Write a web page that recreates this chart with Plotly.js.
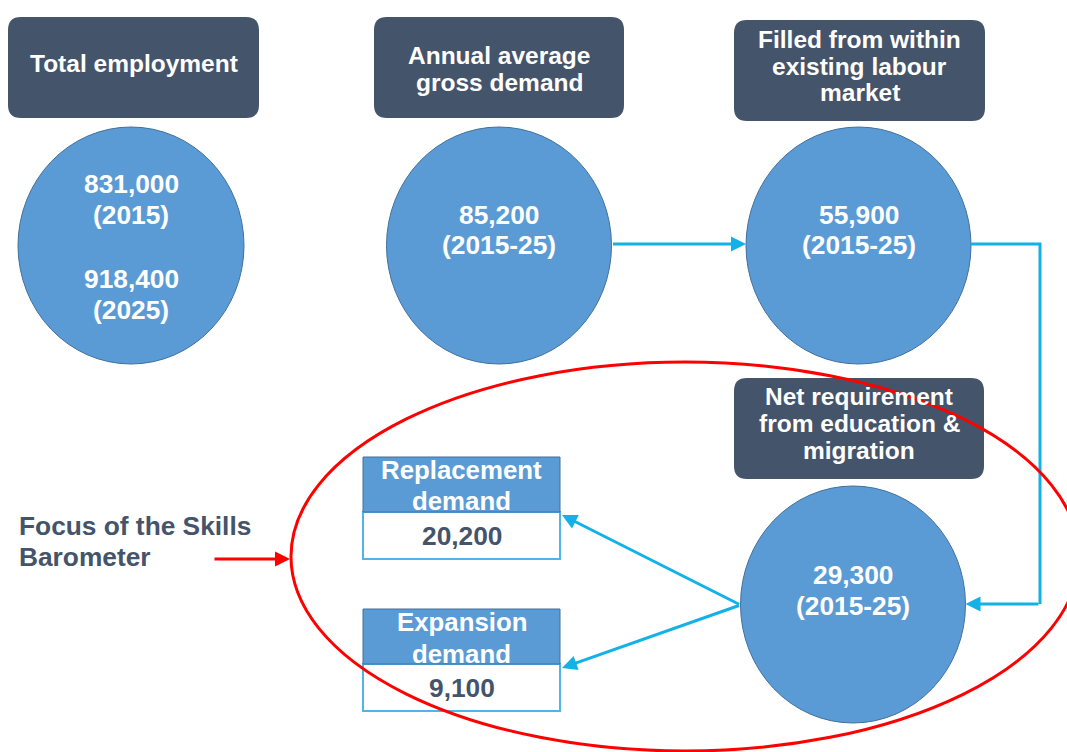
<!DOCTYPE html>
<html>
<head>
<meta charset="utf-8">
<script src="https://cdn.plot.ly/plotly-3.0.1.min.js"></script>
<style>html,body{margin:0;padding:0;background:#fff;}#chart{width:1067px;height:752px;}</style>
</head>
<body>
<div id="chart"></div>
<script>
// ---------------- DATA ----------------
const headerLabels = [
  ["Total employment"],
  ["Annual average", "gross demand"],
  ["Filled from within", "existing labour", "market"],
  ["Net requirement", "from education &", "migration"]
];
const employmentValues = [831000, 918400];
const employmentYears = ["2015", "2025"];
const flowValues = [85200, 55900, 29300];
const flowPeriod = "2015-25";
const demandLabels = [["Replacement", "demand"], ["Expansion", "demand"]];
const demandValues = [20200, 9100];
const focusLabel = ["Focus of the Skills", "Barometer"];

// ---------------- LAYOUT (positions / styles) ----------------
const C = {
  dark: "#44546A", blue: "#5B9BD5", blueEdge: "#41719C",
  arrow: "#12B2E8", cellEdge: "#4DB5EA", red: "#FF0000"
};
const FONT = "Liberation Sans, Arial, sans-serif";
const HEAD_SIZE = 24.5, NUM_SIZE = 26.3, TAB_SIZE = 25.8;
const headerBoxes = [
  {x0: 8, x1: 259, y0: 17, y1: 118, lines: [63]},
  {x0: 374, x1: 624, y0: 17, y1: 118, lines: [55, 82]},
  {x0: 734, x1: 985, y0: 20, y1: 121, lines: [39, 66, 92]},
  {x0: 734, x1: 984, y0: 378, y1: 479, lines: [396, 423, 450]}
];
const circles = [
  {cx: 131, cy: 245.5, rx: 113, ry: 118.5, lines: [184, 215, 279, 310]},
  {cx: 499, cy: 245.5, rx: 112.5, ry: 118.5, lines: [215, 245]},
  {cx: 858.5, cy: 245.5, rx: 112.5, ry: 118.5, lines: [215, 245]},
  {cx: 853, cy: 604.5, rx: 112.5, ry: 118.5, lines: [575, 606]}
];
const tables = [
  {x0: 363, x1: 560, y0: 457, ym: 512, y1: 559, lines: [470, 501], val: 536},
  {x0: 363, x1: 560, y0: 609, ym: 664, y1: 711, lines: [622, 654], val: 688}
];

function fmt(v) { return v.toLocaleString("en-US"); }

function roundRect(x0, y0, x1, y1, r) {
  return `M${x0 + r},${y0} L${x1 - r},${y0} Q${x1},${y0} ${x1},${y0 + r} ` +
    `L${x1},${y1 - r} Q${x1},${y1} ${x1 - r},${y1} L${x0 + r},${y1} ` +
    `Q${x0},${y1} ${x0},${y1 - r} L${x0},${y0 + r} Q${x0},${y0} ${x0 + r},${y0} Z`;
}

const shapes = [];
const annotations = [];

function txt(x, y, text, size, color, xanchor) {
  annotations.push({
    x: x, y: y, xref: "x", yref: "y", text: text, showarrow: false,
    xanchor: xanchor || "center", yanchor: "middle",
    font: {family: FONT, size: size, color: color, weight: 700}
  });
}
function arrow(x1, y1, x2, y2, color, w) {
  annotations.push({
    x: x2, y: y2, ax: x1, ay: y1, xref: "x", yref: "y", axref: "x", ayref: "y",
    text: "", showarrow: true, arrowhead: 2, arrowsize: 1.0, arrowwidth: w,
    arrowcolor: color, standoff: 0, startstandoff: 0
  });
}

// header boxes
headerBoxes.forEach((b, i) => {
  shapes.push({type: "path", xref: "x", yref: "y", path: roundRect(b.x0, b.y0, b.x1, b.y1, 13),
    fillcolor: C.dark, line: {width: 0}, layer: "below"});
  headerLabels[i].forEach((ln, k) => txt((b.x0 + b.x1) / 2, b.lines[k], ln, HEAD_SIZE, "#ffffff"));
});

// circles
circles.forEach((c) => {
  shapes.push({type: "circle", xref: "x", yref: "y",
    x0: c.cx - c.rx, x1: c.cx + c.rx, y0: c.cy - c.ry, y1: c.cy + c.ry,
    fillcolor: C.blue, line: {color: C.blueEdge, width: 1}, layer: "below"});
});
// circle texts
const c0 = circles[0];
txt(c0.cx, c0.lines[0], fmt(employmentValues[0]), NUM_SIZE, "#ffffff");
txt(c0.cx, c0.lines[1], "(" + employmentYears[0] + ")", NUM_SIZE, "#ffffff");
txt(c0.cx, c0.lines[2], fmt(employmentValues[1]), NUM_SIZE, "#ffffff");
txt(c0.cx, c0.lines[3], "(" + employmentYears[1] + ")", NUM_SIZE, "#ffffff");
flowValues.forEach((v, i) => {
  const c = circles[i + 1];
  txt(c.cx, c.lines[0], fmt(v), NUM_SIZE, "#ffffff");
  txt(c.cx, c.lines[1], "(" + flowPeriod + ")", NUM_SIZE, "#ffffff");
});

// demand tables
tables.forEach((t, i) => {
  shapes.push({type: "rect", xref: "x", yref: "y", x0: t.x0, x1: t.x1, y0: t.ym, y1: t.y1,
    fillcolor: "#ffffff", line: {color: C.cellEdge, width: 2}, layer: "below"});
  shapes.push({type: "rect", xref: "x", yref: "y", x0: t.x0, x1: t.x1, y0: t.y0, y1: t.ym,
    fillcolor: C.blue, line: {color: C.blueEdge, width: 1}, layer: "below"});
  demandLabels[i].forEach((ln, k) => txt((t.x0 + t.x1) / 2, t.lines[k], ln, TAB_SIZE, "#ffffff"));
  txt((t.x0 + t.x1) / 2, t.val, fmt(demandValues[i]), NUM_SIZE, C.dark);
});

// connectors
const c1 = circles[1], c2 = circles[2], c3 = circles[3];
arrow(c1.cx + c1.rx, 244, c2.cx - c2.rx, 244, C.arrow, 3);
shapes.push({type: "path", xref: "x", yref: "y",
  path: `M${c2.cx + c2.rx},244 L1040,244 L1040,604`,
  line: {color: C.arrow, width: 3}, layer: "above"});
arrow(1040, 604, c3.cx + c3.rx, 604, C.arrow, 3);
arrow(c3.cx - c3.rx, 605, tables[0].x1 + 2, tables[0].ym + 3, C.arrow, 3);
arrow(c3.cx - c3.rx, 605, tables[1].x1 + 2, tables[1].ym + 4, C.arrow, 3);

// focus ellipse and label
shapes.push({type: "circle", xref: "x", yref: "y", x0: 291, x1: 1079, y0: 362, y1: 751,
  fillcolor: "rgba(0,0,0,0)", line: {color: C.red, width: 3}, layer: "above"});
txt(17, 526, focusLabel[0], NUM_SIZE, C.dark, "left");
txt(17, 557, focusLabel[1], NUM_SIZE, C.dark, "left");
arrow(213, 559, 290, 559, C.red, 3);

const layout = {
  width: 1067, height: 752,
  margin: {l: 0, r: 0, t: 0, b: 0},
  paper_bgcolor: "#ffffff", plot_bgcolor: "#ffffff",
  xaxis: {range: [0, 1067], visible: false, fixedrange: true},
  yaxis: {range: [752, 0], visible: false, fixedrange: true},
  showlegend: false,
  shapes: shapes,
  annotations: annotations
};

Plotly.newPlot("chart", [], layout, {displayModeBar: false, staticPlot: true});
</script>
</body>
</html>
